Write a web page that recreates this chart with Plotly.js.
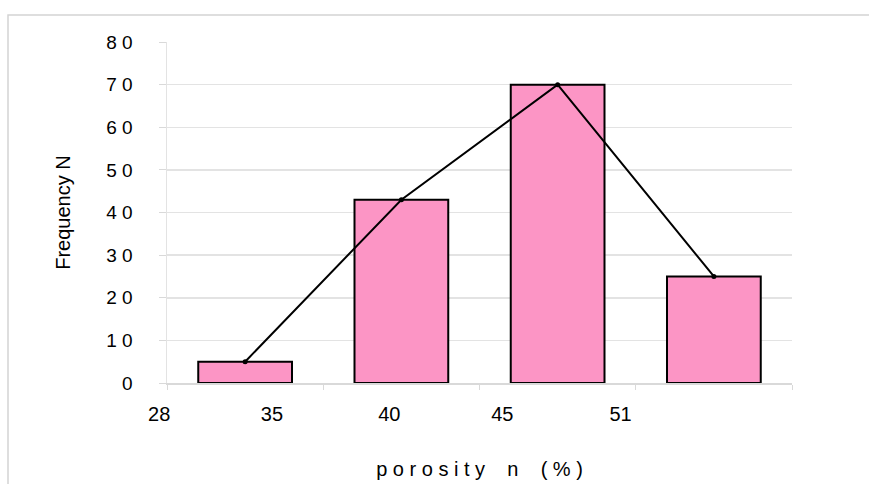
<!DOCTYPE html>
<html>
<head>
<meta charset="utf-8">
<script src="https://cdn.plot.ly/plotly-3.0.1.min.js"></script>
<style>html,body{margin:0;padding:0;background:#fff;}#chart{width:869px;height:484px;}</style>
</head>
<body>
<div id="chart"></div>
<script>
// Data
const binIndex = [0, 1, 2, 3];
const frequency = [5, 43, 70, 25];
const xTickLabels = ["28", "35", "40", "45", "51"];
const xTickPos = [-0.499, 0.223, 0.974, 1.697, 2.454];
const binEdges = [-0.5, 0.5, 1.5, 2.5, 3.5];
const yTickVals = [0, 10, 20, 30, 40, 50, 60, 70, 80];
const yTickText = ["0", "1 0", "2 0", "3 0", "4 0", "5 0", "6 0", "7 0", "8 0"];
const yGridVals = [10, 20, 30, 40, 50, 60, 70];

const font = "Liberation Sans, Arial, sans-serif";

const traces = [
  {
    type: "bar",
    x: binIndex,
    y: frequency,
    width: 0.6,
    marker: {color: "#FC95C5", line: {color: "#000000", width: 2}},
    hoverinfo: "skip",
    showlegend: false
  },
  {
    type: "scatter",
    mode: "lines+markers",
    x: binIndex,
    y: frequency,
    line: {color: "#000000", width: 2},
    marker: {color: "#000000", size: 5},
    cliponaxis: false,
    showlegend: false
  }
];

const layout = {
  width: 869,
  height: 484,
  margin: {l: 167, r: 77, t: 42, b: 101},
  paper_bgcolor: "#ffffff",
  plot_bgcolor: "#ffffff",
  font: {family: font, color: "#000000", size: 19},
  bargap: 0.4,
  xaxis: {
    range: [-0.5, 3.5],
    tickvals: xTickPos,
    ticktext: xTickLabels,
    ticklabelshift: -8,
    ticklabelstandoff: 12,
    ticks: "",
    showgrid: false,
    zeroline: false,
    showline: true,
    linecolor: "#d9d9d9",
    linewidth: 1.5,
    tickfont: {size: 20, family: font},
    minor: {tickvals: binEdges, ticks: "outside", ticklen: 5, tickcolor: "#d9d9d9", tickwidth: 1, showgrid: false},
    title: {text: "p o r o s i t y \u00a0 \u00a0n \u00a0 \u00a0(\u00a0%\u00a0)", font: {size: 20, family: font}, standoff: 38}
  },
  yaxis: {
    range: [0, 80],
    tickvals: yTickVals,
    ticktext: yTickText,
    ticks: "outside",
    ticklen: 7,
    tickcolor: "#d9d9d9",
    showgrid: false,
    zeroline: false,
    showline: true,
    linecolor: "#e3e3e3",
    linewidth: 1.5,
    tickfont: {size: 19, family: font},
    ticklabelstandoff: 22,
    minor: {tickvals: yGridVals, ticks: "", showgrid: true, gridcolor: "#e3e3e3", gridwidth: 1.5},
    title: {text: "Frequency N", font: {size: 20, family: font}, standoff: 30}
  },
  shapes: [
    {type: "rect", xref: "paper", yref: "paper",
     x0: -0.2544, x1: 1.2, y0: -0.4, y1: 1.079,
     line: {color: "#d4d4d4", width: 1.5}, fillcolor: "rgba(0,0,0,0)", layer: "below"}
  ]
};

Plotly.newPlot("chart", traces, layout, {displayModeBar: false, staticPlot: true});
</script>
</body>
</html>
